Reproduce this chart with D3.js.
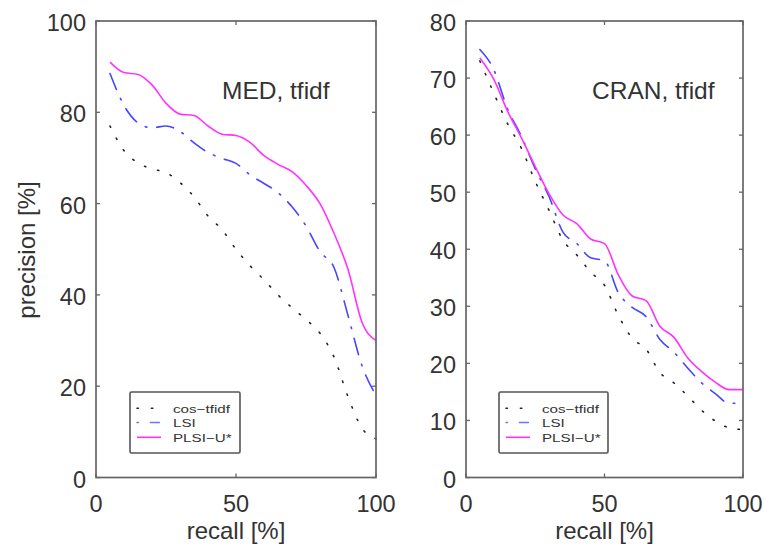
<!DOCTYPE html>
<html>
<head>
<meta charset="utf-8">
<script src="https://cdn.jsdelivr.net/npm/d3@7"></script>
<style>
  html, body { margin: 0; padding: 0; background: #fff; }
  svg { display: block; }
  text { font-family: "Liberation Sans", Arial, Helvetica, sans-serif; fill: #333; }
</style>
</head>
<body>
<svg id="chart" width="764" height="549"></svg>
<script>
// ---- data ----
const recall = [5,10,15,20,25,30,35,40,45,50,55,60,65,70,75,80,85,90,95,100];
const seriesNames = ["cos\u2212tfidf", "LSI", "PLSI\u2212U*"];

const medCos  = [77, 71.6, 68.9, 67.6, 66.8, 64.6, 61.5, 57.3, 54.3, 50, 46.4, 43.3, 40, 37.2, 34.6, 31.6, 26.4, 17.7, 10.8, 8.5];
const medLsi  = [88.5, 81.5, 77.7, 76.6, 77, 75.8, 73.3, 71.2, 69.9, 68.8, 66.3, 64.4, 62.4, 59.3, 55.1, 49.5, 46, 35.5, 24.5, 18];
const medPlsi = [91, 88.7, 88.3, 86, 82, 79.6, 79.3, 77, 75.2, 74.9, 73.4, 70.5, 68.6, 67, 64, 60, 53.5, 45.6, 34, 30];

const cranCos  = [73, 67.4, 62, 57.7, 51.9, 46.8, 41.6, 39, 36, 33.7, 28.4, 24.4, 22.5, 18.4, 16.6, 14.3, 11.8, 9.9, 8.7, 8.4];
const cranLsi  = [75, 71.5, 64.6, 59.8, 54.1, 49.2, 43, 41, 38.5, 38, 32.4, 29.8, 28.2, 24.2, 22, 19.2, 16.6, 14.7, 13, 13];
const cranPlsi = [73.5, 69.8, 64.2, 59.5, 54.5, 49.7, 46, 44.5, 41.8, 41, 35.5, 31.8, 31, 26.5, 24.6, 21, 18.6, 16.7, 15.4, 15.4];

const xTicks = [0, 50, 100];
const medYTicks = [0, 20, 40, 60, 80, 100];
const cranYTicks = [0, 10, 20, 30, 40, 50, 60, 70, 80];

// ---- styles ----
const styles = [
  { color: "#222", width: 1.6, dash: "1.4,12.2" },
  { color: "#4646ff", width: 1.6, dash: "17,10,1.6,10" },
  { color: "#ff33ff", width: 1.6, dash: null }
];

const svg = d3.select("#chart");

function panel(opts) {
  const x = d3.scaleLinear().domain([0, 100]).range([opts.x0, opts.x1]);
  const y = d3.scaleLinear().domain([0, opts.ymax]).range([477.5, 21]);
  const g = svg.append("g");

  // series
  opts.series.forEach((vals, i) => {
    const st = styles[i];
    const line = d3.line().curve(d3.curveMonotoneX)
      .x((d, j) => x(recall[j])).y(d => y(d));
    g.append("path")
      .datum(vals)
      .attr("d", line)
      .attr("fill", "none")
      .attr("stroke", st.color)
      .attr("stroke-width", st.width)
      .attr("stroke-linecap", st.dash ? "round" : "butt")
      .attr("stroke-dasharray", st.dash);
  });

  // frame
  g.append("rect")
    .attr("x", opts.x0).attr("y", 21)
    .attr("width", opts.x1 - opts.x0).attr("height", 477.5 - 21)
    .attr("fill", "none").attr("stroke", "#666").attr("stroke-width", 1.7);

  // ticks (inward, all four sides)
  const tl = 4;
  opts.yTicks.forEach(t => {
    g.append("line").attr("x1", opts.x0).attr("x2", opts.x0 + tl)
      .attr("y1", y(t)).attr("y2", y(t)).attr("stroke", "#666").attr("stroke-width", 1.3);
    g.append("line").attr("x1", opts.x1).attr("x2", opts.x1 - tl)
      .attr("y1", y(t)).attr("y2", y(t)).attr("stroke", "#666").attr("stroke-width", 1.3);
    g.append("text").attr("x", opts.x0 - 10).attr("y", y(t) + 10)
      .attr("text-anchor", "end").attr("font-size", 23.5).text(t);
  });
  xTicks.forEach(t => {
    g.append("line").attr("x1", x(t)).attr("x2", x(t))
      .attr("y1", 477.5).attr("y2", 477.5 - tl).attr("stroke", "#666").attr("stroke-width", 1.3);
    g.append("line").attr("x1", x(t)).attr("x2", x(t))
      .attr("y1", 21).attr("y2", 21 + tl).attr("stroke", "#666").attr("stroke-width", 1.3);
    g.append("text").attr("x", x(t)).attr("y", 512)
      .attr("text-anchor", "middle").attr("font-size", 23.5).text(t);
  });

  // x label
  g.append("text").attr("x", (opts.x0 + opts.x1) / 2).attr("y", 539)
    .attr("text-anchor", "middle").attr("font-size", 24).text("recall [%]");

  // title
  g.append("text").attr("x", opts.titleX).attr("y", 99)
    .attr("font-size", 24.5).text(opts.title);

  // legend
  const lg = g.append("g");
  lg.append("rect")
    .attr("x", opts.legX).attr("y", 392).attr("width", opts.legW).attr("height", 61)
    .attr("fill", "#fff").attr("stroke", "#555").attr("stroke-width", 1.6).attr("rx", 1.5);
  const rows = [408.3, 422.5, 437.3];
  seriesNames.forEach((name, i) => {
    const st = styles[i];
    lg.append("line")
      .attr("x1", opts.legX + 7).attr("x2", opts.legX + 31)
      .attr("y1", rows[i]).attr("y2", rows[i])
      .attr("stroke", st.color).attr("stroke-width", st.width)
      .attr("stroke-linecap", st.dash ? "round" : "butt")
      .attr("stroke-dasharray", i === 0 ? "1.4,13" : (i === 1 ? "1.4,12,9,20" : null))
      .attr("opacity", i === 1 ? 0.75 : 1);
    lg.append("text")
      .attr("transform", `translate(${opts.legX + 43},${rows[i] + 4.5}) scale(1.32,1)`)
      .attr("font-size", 11.5).attr("fill", "#444").text(name);
  });
}

panel({ x0: 96, x1: 376, ymax: 100, yTicks: medYTicks,
        series: [medCos, medLsi, medPlsi],
        title: "MED, tfidf", titleX: 222, legX: 130, legW: 110 });
panel({ x0: 466, x1: 743, ymax: 80, yTicks: cranYTicks,
        series: [cranCos, cranLsi, cranPlsi],
        title: "CRAN, tfidf", titleX: 592, legX: 499, legW: 109 });

// y label
svg.append("text")
  .attr("transform", "translate(35,250) rotate(-90)")
  .attr("text-anchor", "middle").attr("font-size", 24).text("precision [%]");
</script>
</body>
</html>
